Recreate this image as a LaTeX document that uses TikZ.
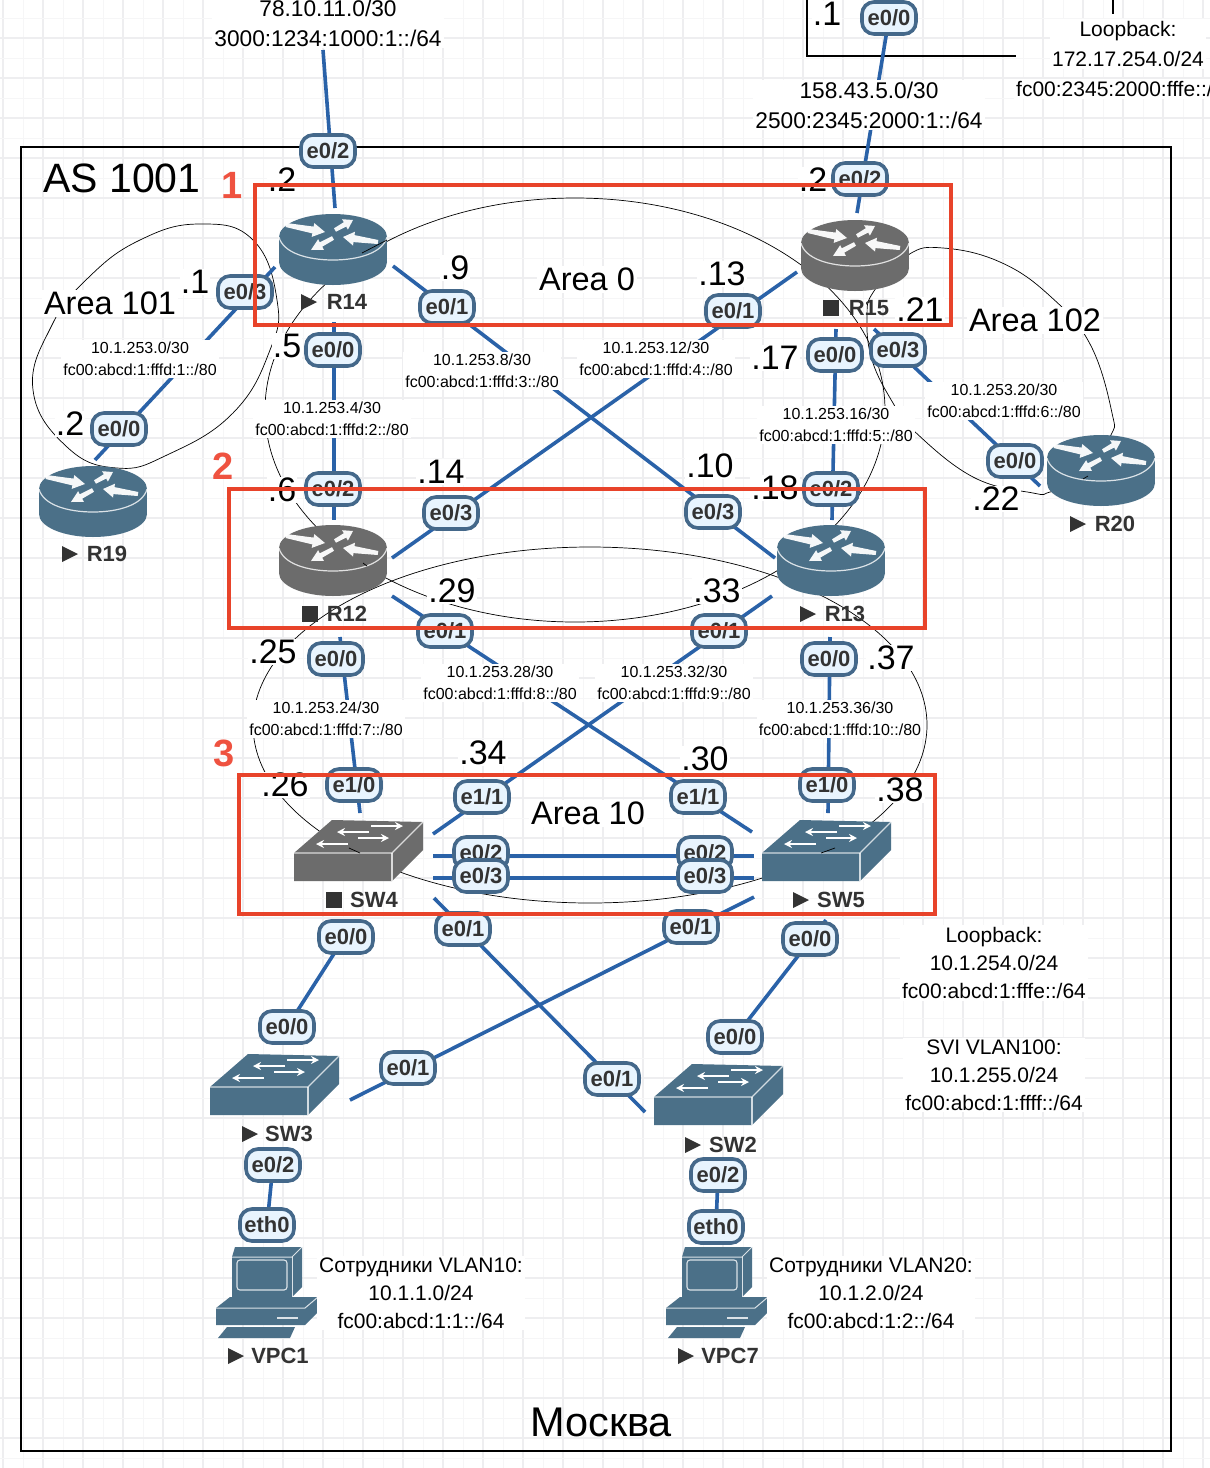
\documentclass[tikz,border=0pt]{standalone}
\usepackage{fontspec}
\setmainfont{Liberation Sans}
\usetikzlibrary{arrows.meta}
\definecolor{linkblue}{HTML}{2A62A8}
\definecolor{portline}{HTML}{44688A}
\definecolor{portfill}{HTML}{E8F4FE}
\definecolor{inkdark}{HTML}{333333}
\definecolor{iconblue}{HTML}{4B7088}
\definecolor{icongray}{HTML}{6C6C6C}
\definecolor{redbox}{HTML}{E8432A}
\definecolor{rednum}{HTML}{EF5240}
\definecolor{gridmajor}{HTML}{EEEEF0}
\definecolor{gridminor}{HTML}{F6F6F7}
\newcommand{\runmark}[2]{\fill[inkdark] (#1-8,#2-8) -- (#1+8,#2) -- (#1-8,#2+8) -- cycle;}
\newcommand{\stopmark}[2]{\fill[inkdark] (#1-8,#2-8) rectangle (#1+8,#2+8);}
\tikzset{
  link/.style={draw=linkblue,line width=3.6pt},
  thincurve/.style={draw=black,line width=0.7pt},
  port/.style={draw=portline,fill=portfill,line width=3.6pt,rounded corners=12pt,minimum width=54pt,minimum height=32pt,inner sep=0pt,text=inkdark,font=\fontsize{22}{24}\selectfont\bfseries},
  iptext/.style={fill=white,align=center,inner sep=2pt,text=black,font=\fontsize{16}{22}\selectfont},
  bigtext/.style={fill=white,align=center,inner sep=2pt,text=black,font=\fontsize{22.7}{30}\selectfont},
  midtext/.style={fill=white,align=center,inner sep=2pt,text=black,font=\fontsize{21}{28}\selectfont},
  dotlab/.style={fill=white,inner sep=1pt,text=black,font=\fontsize{34}{36}\selectfont},
  arealab/.style={fill=white,inner sep=2pt,text=black,font=\fontsize{32.5}{34}\selectfont},
  devlab/.style={inner sep=0pt,text=inkdark,font=\fontsize{22}{24}\selectfont\bfseries},
  rednumber/.style={inner sep=0pt,text=rednum,font=\fontsize{38}{40}\selectfont\bfseries},
  redframe/.style={draw=redbox,line width=3.2pt},
  swarrow/.style={draw=white,line width=2.4pt,-{Stealth[length=8pt,width=8pt]}},
  pics/routericon/.style={code={
    \fill[#1] (0,12) ellipse [x radius=54,y radius=23];
    \fill[#1] (-54,-13) rectangle (54,12);
    \fill[#1] (0,-13) ellipse [x radius=54,y radius=23];
    \draw[white,line width=1.2pt,opacity=.8] (-54,-13) .. controls (-50,3) and (-25,10) .. (0,10) .. controls (25,10) and (50,3) .. (54,-13);
    \fill[white,opacity=.95] (-47.4,-23) -- (-20.6,-16.6) -- (-21.3,-13.1) -- (-8,-18) -- (-18.7,-26.9) -- (-19.4,-23.4) -- (-46.6,-27) -- cycle;
    \fill[white,opacity=.95] (45.3,-10) -- (21.5,-14.9) -- (22,-18.3) -- (10,-13) -- (20,-4.5) -- (20.5,-7.9) -- (44.7,-6) -- cycle;
    \fill[white,opacity=.95] (3,-18.3) -- (13.2,-23.4) -- (14.9,-20.4) -- (20,-30) -- (9.1,-30.8) -- (10.8,-27.8) -- (1,-21.7) -- cycle;
    \fill[white,opacity=.95] (1,-10.2) -- (-10.8,-3.3) -- (-9.1,-0.2) -- (-22,0) -- (-14.9,-10.8) -- (-13.2,-7.7) -- (-1,-13.8) -- cycle;
  }},
  pics/switchicon/.style={code={
    \fill[#1] (0,0) -- (38,-33) -- (129,-31) -- (129,-3) -- (98,28) -- (0,28) -- cycle;
    \draw[white,line width=1.1pt,opacity=.75] (0,0) -- (98,0) -- (129,-31);
    \draw[white,line width=1.1pt,opacity=.75] (98,0) -- (98,28);
    \draw[swarrow] (77,-27) -- (109,-27);
    \draw[swarrow] (75,-21) -- (43,-21);
    \draw[swarrow] (64,-15) -- (95,-15);
    \draw[swarrow] (54,-9) -- (22,-9);
  }},
  pics/pcicon/.style={code={
    \fill[#1] (16,10) -- (19,0) -- (86,0) -- (86,40) -- (76,50) -- (16,50) -- cycle;
    \fill[#1] (0,61) -- (14,50) -- (102,50) -- (102,65) -- (89,78) -- (0,78) -- cycle;
    \fill[#1] (11,80) -- (79,80) -- (74,91) -- (2,91) -- cycle;
    \draw[white,line width=1.1pt,opacity=.8,rounded corners=3pt] (21,13) rectangle (71,43);
    \draw[white,line width=1pt,opacity=.8] (16,10) -- (76,10) -- (86,0);
    \draw[white,line width=1pt,opacity=.8] (76,10) -- (76,50);
    \draw[white,line width=1pt,opacity=.8] (0,61) -- (89,61) -- (102,50);
    \draw[white,line width=2pt,opacity=.8] (61,71) -- (82,71);
  }}
}
\begin{document}
\begin{tikzpicture}[x=1pt,y=-1pt]
\useasboundingbox (0,0) rectangle (1210,1468);
\fill[white] (0,0) rectangle (1210,1468);
% background grid
\foreach \g in {3,43,...,1210} {\draw[gridminor,line width=1pt] (\g+20,0) -- (\g+20,1468); \draw[gridmajor,line width=1.4pt] (\g,0) -- (\g,1468);}
\foreach \g in {-2,38,...,1468} {\draw[gridminor,line width=1pt] (0,\g+20) -- (1210,\g+20); \draw[gridmajor,line width=1.4pt] (0,\g) -- (1210,\g);}
% outer frames
\draw[black,line width=2pt] (21,147) rectangle (1171,1451);
\draw[black,line width=1.6pt] (807,-3) -- (807,56) -- (1016,56);
\draw[black,line width=1.6pt] (1113,-3) -- (1113,14);
% area outlines
\draw[thincurve] (575,410) ellipse [x radius=310,y radius=212];
\draw[thincurve] (590,725) ellipse [x radius=337,y radius=178];
\draw[thincurve] plot[smooth cycle,tension=0.75] coordinates {(88,278) (140,240) (200,224) (253,240) (277,300) (270,350) (233,413) (167,455) (117,468) (67,447) (33,390) (52,325)};
\draw[thincurve] plot[smooth cycle,tension=0.7] coordinates {(908,255) (943,248) (1000,262) (1050,296) (1090,344) (1112,413) (1110,437) (1083,479) (1050,492) (1033,493) (973,477) (913,430) (893,403) (872,360) (867,317) (874,291)};
% device icons
\pic at (333,250) {routericon=iconblue};
\pic at (855,256) {routericon=icongray};
\pic at (93,502) {routericon=iconblue};
\pic at (1101,471) {routericon=iconblue};
\pic at (333,561) {routericon=icongray};
\pic at (831,561) {routericon=iconblue};
\pic at (294,853) {switchicon=icongray};
\pic at (762,853) {switchicon=iconblue};
\pic at (210,1087) {switchicon=iconblue};
\pic at (654,1097) {switchicon=iconblue};
\pic at (216,1247) {pcicon=iconblue};
\pic at (666,1247) {pcicon=iconblue};
% short outline pieces showing over the icons
\draw[thincurve] (362,253) -- (387,240);
\draw[thincurve] (363,563) -- (367,566);
\draw[thincurve] (1083,479) -- (1088,476);
\draw[thincurve] (349,848) -- (360,853);
\draw[thincurve] (821,853) -- (835,848);
% connector end points
\coordinate (isp14) at (323,50);
\coordinate (r14up) at (335,208);
\coordinate (isp15) at (889,18);
\coordinate (r15up) at (857,213);
\coordinate (r14w) at (275,267);
\coordinate (r19ne) at (95,460);
\coordinate (r14e) at (393,266);
\coordinate (r13w) at (775,558);
\coordinate (r15w) at (797,272);
\coordinate (r12e) at (392,558);
\coordinate (r14s) at (334,322);
\coordinate (r12n) at (334,520);
\coordinate (r15s) at (836,329);
\coordinate (r13n) at (832,520);
\coordinate (r15se) at (874,329);
\coordinate (r20w) at (1040,486);
\coordinate (r12se) at (392,596);
\coordinate (sw5nw) at (752,832);
\coordinate (r13sw) at (772,596);
\coordinate (sw4ne) at (433,834);
\coordinate (r12s) at (340,637);
\coordinate (sw4n) at (360,813);
\coordinate (r13s) at (830,637);
\coordinate (sw5n) at (828,813);
\coordinate (sw4a) at (433,856);
\coordinate (sw5a) at (754,856);
\coordinate (sw4b) at (433,878);
\coordinate (sw5b) at (754,878);
\coordinate (sw4se) at (434,898);
\coordinate (sw2w) at (645,1112);
\coordinate (sw5sw) at (754,897);
\coordinate (sw3e) at (350,1100);
\coordinate (sw4s) at (346,935);
\coordinate (sw3n) at (287,1027);
\coordinate (sw5s) at (826,920);
\coordinate (sw2n) at (735,1037);
\coordinate (sw3s) at (273,1165);
\coordinate (pc1n) at (267,1225);
\coordinate (sw2s) at (718,1175);
\coordinate (pc7n) at (716,1227);
% connectors
\draw[link] (isp14) -- (r14up);
\draw[link] (isp15) -- (r15up);
\draw[link] (r14w) -- (r19ne);
\draw[link] (r14e) -- (r13w);
\draw[link] (r15w) -- (r12e);
\draw[link] (r14s) -- (r12n);
\draw[link] (r15s) -- (r13n);
\draw[link] (r15se) -- (r20w);
\draw[link] (r12se) -- (sw5nw);
\draw[link] (r13sw) -- (sw4ne);
\draw[link] (r12s) -- (sw4n);
\draw[link] (r13s) -- (sw5n);
\draw[link] (sw4a) -- (sw5a);
\draw[link] (sw4b) -- (sw5b);
\draw[link] (sw4se) -- (sw2w);
\draw[link] (sw5sw) -- (sw3e);
\draw[link] (sw4s) -- (sw3n);
\draw[link] (sw5s) -- (sw2n);
\draw[link] (sw3s) -- (pc1n);
\draw[link] (sw2s) -- (pc7n);
% network labels
\node[bigtext] (net78) at (328,23) {78.10.11.0/30\\3000:1234:1000:1::/64};
\node[bigtext] (net158) at (869,105) {158.43.5.0/30\\2500:2345:2000:1::/64};
\node[midtext,font=\fontsize{21}{30}\selectfont] (lb172a) at (1128,44) {Loopback:\\172.17.254.0/24};
\node[midtext,anchor=west] (lb172b) at (1014,89) {fc00:2345:2000:fffe::/64};
\node[iptext] (n0) at (140,359) {10.1.253.0/30\\fc00:abcd:1:fffd:1::/80};
\node[iptext] (n4) at (332,419) {10.1.253.4/30\\fc00:abcd:1:fffd:2::/80};
\node[iptext] (n8) at (482,371) {10.1.253.8/30\\fc00:abcd:1:fffd:3::/80};
\node[iptext] (n12) at (656,359) {10.1.253.12/30\\fc00:abcd:1:fffd:4::/80};
\node[iptext] (n16) at (836,425) {10.1.253.16/30\\fc00:abcd:1:fffd:5::/80};
\node[iptext] (n20) at (1004,401) {10.1.253.20/30\\fc00:abcd:1:fffd:6::/80};
\node[iptext] (n24) at (326,719) {10.1.253.24/30\\fc00:abcd:1:fffd:7::/80};
\node[iptext] (n28) at (500,683) {10.1.253.28/30\\fc00:abcd:1:fffd:8::/80};
\node[iptext] (n32) at (674,683) {10.1.253.32/30\\fc00:abcd:1:fffd:9::/80};
\node[iptext] (n36) at (840,719) {10.1.253.36/30\\fc00:abcd:1:fffd:10::/80};
\node[midtext] (lb254) at (994,963) {Loopback:\\10.1.254.0/24\\fc00:abcd:1:fffe::/64};
\node[midtext] (svi) at (994,1075) {SVI VLAN100:\\10.1.255.0/24\\fc00:abcd:1:ffff::/64};
\node[midtext] (vl10) at (421,1293) {Сотрудники VLAN10:\\10.1.1.0/24\\fc00:abcd:1:1::/64};
\node[midtext] (vl20) at (871,1293) {Сотрудники VLAN20:\\10.1.2.0/24\\fc00:abcd:1:2::/64};
% headings
\node[inner sep=0pt,font=\fontsize{41}{43}\selectfont] (as) at (122,178) {AS 1001};
\node[inner sep=0pt,font=\fontsize{41.5}{43}\selectfont] (city) at (601,1422) {Москва};
\node[arealab] (a101) at (110,303) {Area 101};
\node[arealab] (a0) at (587,279) {Area 0};
\node[arealab] (a102) at (1035,320) {Area 102};
\node[arealab] (a10) at (588,813) {Area 10};
% address suffixes
\node[dotlab] (d1) at (282,180) {.2};
\node[dotlab] (d2) at (195,282) {.1};
\node[dotlab] (d3) at (70,424) {.2};
\node[dotlab] (d4) at (287,346) {.5};
\node[dotlab] (d5) at (455,268) {.9};
\node[dotlab] (d6) at (722,274) {.13};
\node[dotlab] (d7) at (441,472) {.14};
\node[dotlab] (d8) at (710,466) {.10};
\node[dotlab] (d9) at (282,490) {.6};
\node[dotlab] (d10) at (775,358) {.17};
\node[dotlab] (d11) at (775,488) {.18};
\node[dotlab] (d12) at (813,180) {.2};
\node[dotlab] (d13) at (920,310) {.21};
\node[dotlab] (d14) at (996,499) {.22};
\node[dotlab] (d15) at (452,591) {.29};
\node[dotlab] (d16) at (717,591) {.33};
\node[dotlab] (d17) at (273,652) {.25};
\node[dotlab] (d18) at (891,658) {.37};
\node[dotlab] (d19) at (483,753) {.34};
\node[dotlab] (d20) at (705,759) {.30};
\node[dotlab] (d21) at (285,785) {.26};
\node[dotlab] (d22) at (900,790) {.38};
\node[dotlab] (d23) at (827,14) {.1};
% device names
\runmark{309}{302} \node[devlab] (lr14) at (347,302) {R14};
\stopmark{831}{308} \node[devlab] (lr15) at (869,308) {R15};
\runmark{70}{554} \node[devlab] (lr19) at (107,554) {R19};
\runmark{1078}{524} \node[devlab] (lr20) at (1115,524) {R20};
\stopmark{310}{614} \node[devlab] (lr12) at (347,614) {R12};
\runmark{808}{614} \node[devlab] (lr13) at (845,614) {R13};
\stopmark{334}{900} \node[devlab] (lsw4) at (374,900) {SW4};
\runmark{801}{900} \node[devlab] (lsw5) at (841,900) {SW5};
\runmark{250}{1134} \node[devlab] (lsw3) at (289,1134) {SW3};
\runmark{693}{1145} \node[devlab] (lsw2) at (733,1145) {SW2};
\runmark{236}{1356} \node[devlab] (lpc1) at (280,1356) {VPC1};
\runmark{686}{1356} \node[devlab] (lpc7) at (730,1356) {VPC7};
% interface tags
\node[port] (p1) at (328,151) {e0/2};
\node[port] (p2) at (889,18) {e0/0};
\node[port] (p3) at (860,179) {e0/2};
\node[port] (p4) at (245,292) {e0/3};
\node[port] (p5) at (119,429) {e0/0};
\node[port] (p6) at (447,307) {e0/1};
\node[port] (p7) at (733,311) {e0/1};
\node[port] (p8) at (333,350) {e0/0};
\node[port] (p9) at (835,355) {e0/0};
\node[port] (p10) at (898,350) {e0/3};
\node[port] (p11) at (1015,461) {e0/0};
\node[port] (p12) at (333,489) {e0/2};
\node[port] (p13) at (831,489) {e0/2};
\node[port] (p14) at (451,513) {e0/3};
\node[port] (p15) at (713,512) {e0/3};
\node[port] (p16) at (445,631) {e0/1};
\node[port] (p17) at (719,631) {e0/1};
\node[port] (p18) at (336,659) {e0/0};
\node[port] (p19) at (829,659) {e0/0};
\node[port] (p20) at (354,785) {e1/0};
\node[port] (p21) at (827,785) {e1/0};
\node[port] (p22) at (482,797) {e1/1};
\node[port] (p23) at (698,797) {e1/1};
\node[port] (p24) at (481,853) {e0/2};
\node[port] (p25) at (705,853) {e0/2};
\node[port] (p26) at (481,876) {e0/3};
\node[port] (p27) at (705,876) {e0/3};
\node[port] (p28) at (463,929) {e0/1};
\node[port] (p29) at (691,927) {e0/1};
\node[port] (p30) at (346,937) {e0/0};
\node[port] (p31) at (810,939) {e0/0};
\node[port] (p32) at (287,1027) {e0/0};
\node[port] (p33) at (735,1037) {e0/0};
\node[port] (p34) at (408,1068) {e0/1};
\node[port] (p35) at (612,1079) {e0/1};
\node[port] (p36) at (273,1165) {e0/2};
\node[port] (p37) at (718,1175) {e0/2};
\node[port] (p38) at (267,1225) {eth0};
\node[port] (p39) at (716,1227) {eth0};
% red area frames
\draw[redframe] (255,185) rectangle (951,325);
\draw[redframe] (229,489) rectangle (925,628);
\draw[redframe] (239,775) rectangle (935,914);
\node[rednumber] (num1) at (232,185) {1};
\node[rednumber] (num2) at (223,466) {2};
\node[rednumber] (num3) at (224,753) {3};
\end{tikzpicture}
\end{document}
